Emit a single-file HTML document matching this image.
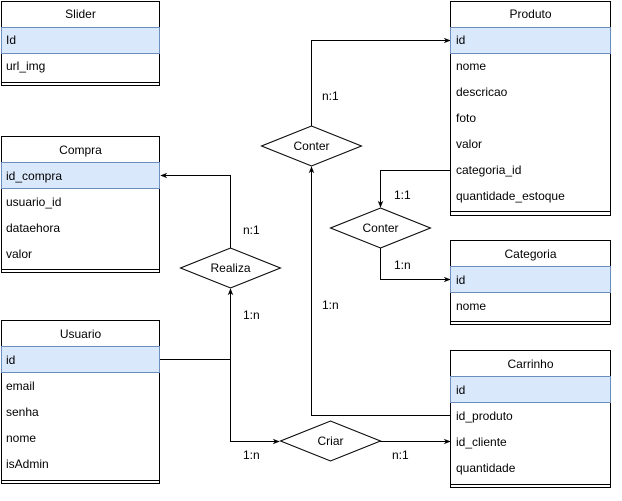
<!DOCTYPE html>
<html><head><meta charset="utf-8"><style>
html,body{margin:0;padding:0;background:#fff;}
svg{display:block;font-family:"Liberation Sans",Helvetica,Arial,sans-serif;font-size:12px;}
</style></head><body>
<svg width="622" height="501" viewBox="0 0 622 501" xmlns="http://www.w3.org/2000/svg">
<defs>
<marker id="a" viewBox="0 0 10 10" refX="9" refY="5" markerWidth="7" markerHeight="7" orient="auto"><path d="M0,1 L10,5 L0,9 L3,5 z" fill="#000"/></marker>
</defs>
<g fill="none" stroke="#000" stroke-width="1">
<!-- edges -->
<polyline points="311.5,126 311.5,40.5 450,40.5" marker-end="url(#a)"/>
<polyline points="450,415.5 311.5,415.5 311.5,167" marker-end="url(#a)"/>
<polyline points="450,170.5 380.5,170.5 380.5,207" marker-end="url(#a)"/>
<polyline points="380.5,248 380.5,279.5 450,279.5" marker-end="url(#a)"/>
<polyline points="230.5,248 230.5,175.5 161,175.5" marker-end="url(#a)"/>
<polyline points="160,359.5 230.5,359.5 230.5,289" marker-end="url(#a)"/>
<polyline points="230.5,359.5 230.5,441.5 279,441.5" marker-end="url(#a)"/>
<polyline points="380,441.5 450,441.5" marker-end="url(#a)"/>
</g>
<!-- diamonds -->
<g fill="#fff" stroke="#000">
<polygon points="261.5,146 311.5,126 361.5,146 311.5,166"/>
<polygon points="330.5,228 380.5,208 430.5,228 380.5,248"/>
<polygon points="180.5,268 230.5,248 280.5,268 230.5,288"/>
<polygon points="280.5,441 330.5,421 380.5,441 330.5,461"/>
</g>
<g text-anchor="middle" fill="#000">
<text x="311.5" y="150">Conter</text>
<text x="380.5" y="232">Conter</text>
<text x="230.5" y="272">Realiza</text>
<text x="330.5" y="445">Criar</text>
</g>
<g fill="#000">
<text x="322" y="100">n:1</text>
<text x="322" y="309">1:n</text>
<text x="394" y="199">1:1</text>
<text x="394" y="269">1:n</text>
<text x="243" y="234">n:1</text>
<text x="243" y="319">1:n</text>
<text x="243" y="459">1:n</text>
<text x="392" y="459">n:1</text>
</g>

<!-- Slider -->
<g>
<rect x="1.5" y="1.5" width="158" height="84" fill="#fff" stroke="#000"/>
<rect x="1.5" y="27.5" width="158" height="26" fill="#dae8fc" stroke="#6c8ebf"/>
<line x1="1.5" y1="82.5" x2="159.5" y2="82.5" stroke="#000"/>
<text x="80.5" y="18" text-anchor="middle">Slider</text>
<text x="6" y="44">Id</text><text x="6" y="70">url_img</text>
</g>
<!-- Compra -->
<g>
<rect x="1.5" y="136.5" width="158" height="136" fill="#fff" stroke="#000"/>
<rect x="1.5" y="162.5" width="158" height="26" fill="#dae8fc" stroke="#6c8ebf"/>
<line x1="1.5" y1="269.5" x2="159.5" y2="269.5" stroke="#000"/>
<text x="80.5" y="154" text-anchor="middle">Compra</text>
<text x="6" y="180">id_compra</text><text x="6" y="206">usuario_id</text><text x="6" y="232">dataehora</text><text x="6" y="258">valor</text>
</g>
<!-- Usuario -->
<g>
<rect x="1.5" y="320.5" width="158" height="163" fill="#fff" stroke="#000"/>
<rect x="1.5" y="346.5" width="158" height="26" fill="#dae8fc" stroke="#6c8ebf"/>
<line x1="1.5" y1="480.5" x2="159.5" y2="480.5" stroke="#000"/>
<text x="80.5" y="338" text-anchor="middle">Usuario</text>
<text x="6" y="364">id</text><text x="6" y="390">email</text><text x="6" y="416">senha</text><text x="6" y="442">nome</text><text x="6" y="468">isAdmin</text>
</g>
<!-- Produto -->
<g>
<rect x="450.5" y="1.5" width="160" height="214" fill="#fff" stroke="#000"/>
<rect x="450.5" y="27.5" width="160" height="26" fill="#dae8fc" stroke="#6c8ebf"/>
<line x1="450.5" y1="211.5" x2="610.5" y2="211.5" stroke="#000"/>
<text x="530.5" y="18" text-anchor="middle">Produto</text>
<text x="456" y="44">id</text><text x="456" y="70">nome</text><text x="456" y="96">descricao</text><text x="456" y="122">foto</text><text x="456" y="148">valor</text><text x="456" y="174">categoria_id</text><text x="456" y="200">quantidade_estoque</text>
</g>
<!-- Categoria -->
<g>
<rect x="450.5" y="240.5" width="160" height="84" fill="#fff" stroke="#000"/>
<rect x="450.5" y="266.5" width="160" height="26" fill="#dae8fc" stroke="#6c8ebf"/>
<line x1="450.5" y1="321.5" x2="610.5" y2="321.5" stroke="#000"/>
<text x="530.5" y="258" text-anchor="middle">Categoria</text>
<text x="456" y="284">id</text><text x="456" y="310">nome</text>
</g>
<!-- Carrinho -->
<g>
<rect x="450.5" y="350.5" width="160" height="137" fill="#fff" stroke="#000"/>
<rect x="450.5" y="376.5" width="160" height="26" fill="#dae8fc" stroke="#6c8ebf"/>
<line x1="450.5" y1="484.5" x2="610.5" y2="484.5" stroke="#000"/>
<text x="530.5" y="368" text-anchor="middle">Carrinho</text>
<text x="456" y="394">id</text><text x="456" y="420">id_produto</text><text x="456" y="446">id_cliente</text><text x="456" y="472">quantidade</text>
</g>
</svg>
</body></html>
